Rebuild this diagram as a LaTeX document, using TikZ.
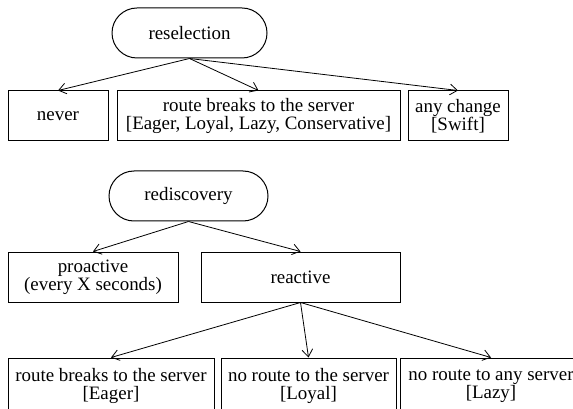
\documentclass[tikz,border=0pt]{standalone}
\usepackage{fontspec}
\setmainfont{Liberation Serif}
\usetikzlibrary{arrows.meta}
\tikzset{
    % picture units are pixels of the 573x409 frame
    px/.style={x=0.75pt, y=-0.75pt},
    phase/.style={draw, line width=0.75pt, rounded corners=18.75pt, minimum height=37.5pt, inner sep=0pt},
    trigger/.style={draw, line width=0.75pt, minimum height=37.5pt, inner sep=0pt, align=center},
    edge/.style={line width=0.6pt, -{Straight Barb[length=5.5pt, width=8pt, line width=0.6pt]}}
}

\begin{document}
\begin{tikzpicture}[px, font=\fontsize{14.2}{13.8}\selectfont]
    \path[use as bounding box, clip] (0,0) rectangle (573,409);

    % Reselection and its triggers
    \node[phase, minimum width=116.25pt] (resel) at (189.5, 33) {reselection};
    \node[trigger, minimum width=75pt] (never) at (58, 116) {never};
    \node[trigger, minimum width=212.25pt] (breaks) at (258.5, 116) {route breaks to the server\\ {[Eager, Loyal, Lazy, Conservative]}};
    \node[trigger, minimum width=75pt] (change) at (458, 116) {any change\\ {[Swift]}};

    \draw[edge] (resel.south) -- (never.north);
    \draw[edge] (resel.south) -- (breaks.north);
    \draw[edge] (resel.south) -- (change.north);

    % Rediscovery, proactive or reactive
    \node[phase, minimum width=119.25pt] (redisc) at (188.5, 196) {rediscovery};
    \node[trigger, minimum width=127.5pt] (proact) at (93, 277) {proactive\\ (every X seconds)};
    \node[trigger, minimum width=149.25pt] (react) at (300.5, 277) {reactive};

    \draw[edge] (redisc.south) -- (proact.north);
    \draw[edge] (redisc.south) -- (react.north);

    % Reactive triggers (cut by the frame at the bottom)
    \node[trigger, minimum width=154.5pt, minimum height=42pt] (eager) at (111, 386) {route breaks to the server\\ {[Eager]}};
    \node[trigger, minimum width=131.25pt, minimum height=42pt] (loyal) at (308.5, 386) {no route to the server\\ {[Loyal]}};
    \node[trigger, minimum width=136.5pt, minimum height=42pt] (lazy) at (491, 386) {no route to any server\\ {[Lazy]}};

    \draw[edge] (react.south) -- (eager.north);
    \draw[edge] (react.south) -- (loyal.north);
    \draw[edge] (react.south) -- (lazy.north);
\end{tikzpicture}
\end{document}
